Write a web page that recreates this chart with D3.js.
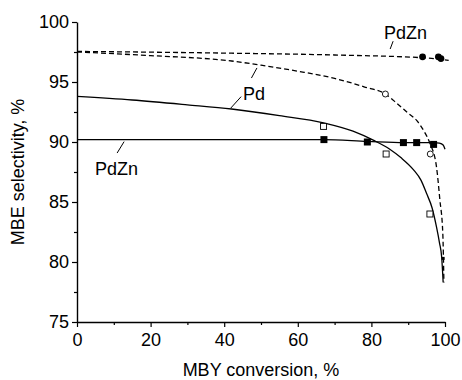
<!DOCTYPE html>
<html>
<head>
<meta charset="utf-8">
<script src="https://cdn.jsdelivr.net/npm/d3@7"></script>
<style>
  body { margin: 0; background: #fff; }
  svg { display: block; font-family: "Liberation Sans", Arial, sans-serif; }
</style>
</head>
<body>
<div id="chart"></div>
<script>
// Axis ticks
const xTicks = [0, 20, 40, 60, 80, 100];
const xMinor = [10, 30, 50, 70, 90];
const yTicks = [75, 80, 85, 90, 95, 100];
const yMinor = [77.5, 82.5, 87.5, 92.5, 97.5];

// Fitted curves: [conversion, selectivity]
const pdSolid = [[0, 93.8], [15, 93.5], [30, 93.1], [42, 92.75], [55, 92.2], [67, 91.6], [75, 90.9],
  [80.5, 90.15], [85, 89.4], [88, 88.7], [91.4, 87.7], [93.5, 86.8], [95, 85.7], [96.5, 84.5],
  [97.7, 82.9], [98.5, 81.6], [99.1, 80.4], [99.5, 78.3]];
const pdDashed = [[0, 97.5], [20, 97.2], [42, 96.75], [50, 96.4], [60, 95.9], [70, 95.3], [78, 94.6],
  [83.8, 94.0], [87, 93.2], [90, 92.4], [92.3, 91.8], [94.3, 90.9], [95.9, 89.9], [97.7, 87.9],
  [98.6, 85.2], [99.4, 82.4], [99.7, 78.3]];
const pdznSolid = [[0, 90.2], [67, 90.2], [79, 90.05], [89, 89.95], [97, 89.95], [98.5, 89.9],
  [99.5, 89.75], [100, 89.4]];
const pdznDashed = [[0, 97.55], [42, 97.4], [70, 97.25], [95, 97.0], [101, 96.8]];

// Measured points
const pdOpenSquares = [[67, 91.3], [84, 89.0], [95.9, 84.0]];
const pdOpenCircles = [[83.8, 94.0], [96, 89.0]];
const pdznFilledSquares = [[67.1, 90.2], [78.9, 90.0], [88.7, 89.95], [92.3, 89.95], [96.9, 89.8]];
const pdznSmallSquares = [[99.5, 80.3]];
const pdznFilledCircles = [[93.9, 97.1], [98.2, 97.1], [98.9, 96.95]];

const width = 462;
const height = 380;
const margin = { top: 22, right: 17, bottom: 58, left: 77 };
const fontSize = '18px';

const svg = d3.select('#chart').append('svg')
  .attr('width', width)
  .attr('height', height);

const x = d3.scaleLinear().domain([0, 100]).range([margin.left, width - margin.right]);
const y = d3.scaleLinear().domain([75, 100]).range([height - margin.bottom, margin.top]);

// axes
svg.append('g')
  .attr('transform', `translate(0,${y(75)})`)
  .call(d3.axisBottom(x).tickValues(xTicks).tickSize(5).tickPadding(6).tickSizeOuter(0));
svg.append('g')
  .attr('transform', `translate(0,${y(75)})`)
  .call(d3.axisBottom(x).tickValues(xMinor).tickSize(3).tickFormat(() => '').tickSizeOuter(0))
  .select('.domain').remove();

svg.append('g')
  .attr('transform', `translate(${x(0)},0)`)
  .call(d3.axisLeft(y).tickValues(yTicks).tickSize(5).tickPadding(3).tickSizeOuter(0));
svg.append('g')
  .attr('transform', `translate(${x(0)},0)`)
  .call(d3.axisLeft(y).tickValues(yMinor).tickSize(3).tickFormat(() => '').tickSizeOuter(0))
  .select('.domain').remove();

svg.selectAll('.domain').attr('stroke', '#000').attr('stroke-width', 1.4);
svg.selectAll('.tick line').attr('stroke', '#000').attr('stroke-width', 1.2);
svg.selectAll('.tick text').attr('fill', '#000').style('font-size', fontSize);

// axis titles
svg.append('text')
  .attr('x', (x(0) + x(100)) / 2)
  .attr('y', 376)
  .attr('text-anchor', 'middle')
  .style('font-size', fontSize)
  .text('MBY conversion, %');

svg.append('text')
  .attr('transform', `translate(24,${(y(75) + y(100)) / 2}) rotate(-90)`)
  .attr('text-anchor', 'middle')
  .style('font-size', fontSize)
  .text('MBE selectivity, %');

// curves
const line = d3.line()
  .x((d) => x(d[0]))
  .y((d) => y(d[1]))
  .curve(d3.curveMonotoneX);

const curves = [
  { data: pdSolid, dash: null },
  { data: pdDashed, dash: '5,3' },
  { data: pdznSolid, dash: null },
  { data: pdznDashed, dash: '5,3' },
];
svg.selectAll('path.curve')
  .data(curves)
  .enter()
  .append('path')
  .attr('class', 'curve')
  .attr('d', (d) => line(d.data))
  .attr('fill', 'none')
  .attr('stroke', '#000')
  .attr('stroke-width', 1.3)
  .attr('stroke-dasharray', (d) => d.dash);

// markers
const square = (data, size, filled) => {
  svg.append('g').selectAll('rect')
    .data(data)
    .enter()
    .append('rect')
    .attr('x', (d) => x(d[0]) - size / 2)
    .attr('y', (d) => y(d[1]) - size / 2)
    .attr('width', size)
    .attr('height', size)
    .attr('fill', filled ? '#000' : '#fff')
    .attr('stroke', '#000')
    .attr('stroke-width', filled ? 0 : 0.9);
};
const circle = (data, r, filled) => {
  svg.append('g').selectAll('circle')
    .data(data)
    .enter()
    .append('circle')
    .attr('cx', (d) => x(d[0]))
    .attr('cy', (d) => y(d[1]))
    .attr('r', r)
    .attr('fill', filled ? '#000' : '#fff')
    .attr('stroke', '#000')
    .attr('stroke-width', filled ? 0 : 0.9);
};
square(pdOpenSquares, 6, false);
circle(pdOpenCircles, 3, false);
square(pdznFilledSquares, 7, true);
square(pdznSmallSquares, 3, true);
circle(pdznFilledCircles, 3.4, true);

// annotations with leader lines
const labels = [
  { text: 'PdZn', at: [83.4, 98.6], leaders: [[[85.9, 98.4], [85.1, 97.75]]] },
  { text: 'Pd', at: [45.1, 93.5], leaders: [[[48.9, 96.17], [47.4, 95.33]], [[44.6, 93.78], [41.8, 92.83]]] },
  { text: 'PdZn', at: [4.9, 87.25], leaders: [[[12.8, 90.03], [10.9, 89.08]]] },
];
labels.forEach((l) => {
  svg.append('text')
    .attr('x', x(l.at[0]))
    .attr('y', y(l.at[1]))
    .style('font-size', fontSize)
    .text(l.text);
  l.leaders.forEach((seg) => {
    svg.append('line')
      .attr('x1', x(seg[0][0])).attr('y1', y(seg[0][1]))
      .attr('x2', x(seg[1][0])).attr('y2', y(seg[1][1]))
      .attr('stroke', '#000')
      .attr('stroke-width', 1);
  });
});
</script>
</body>
</html>
